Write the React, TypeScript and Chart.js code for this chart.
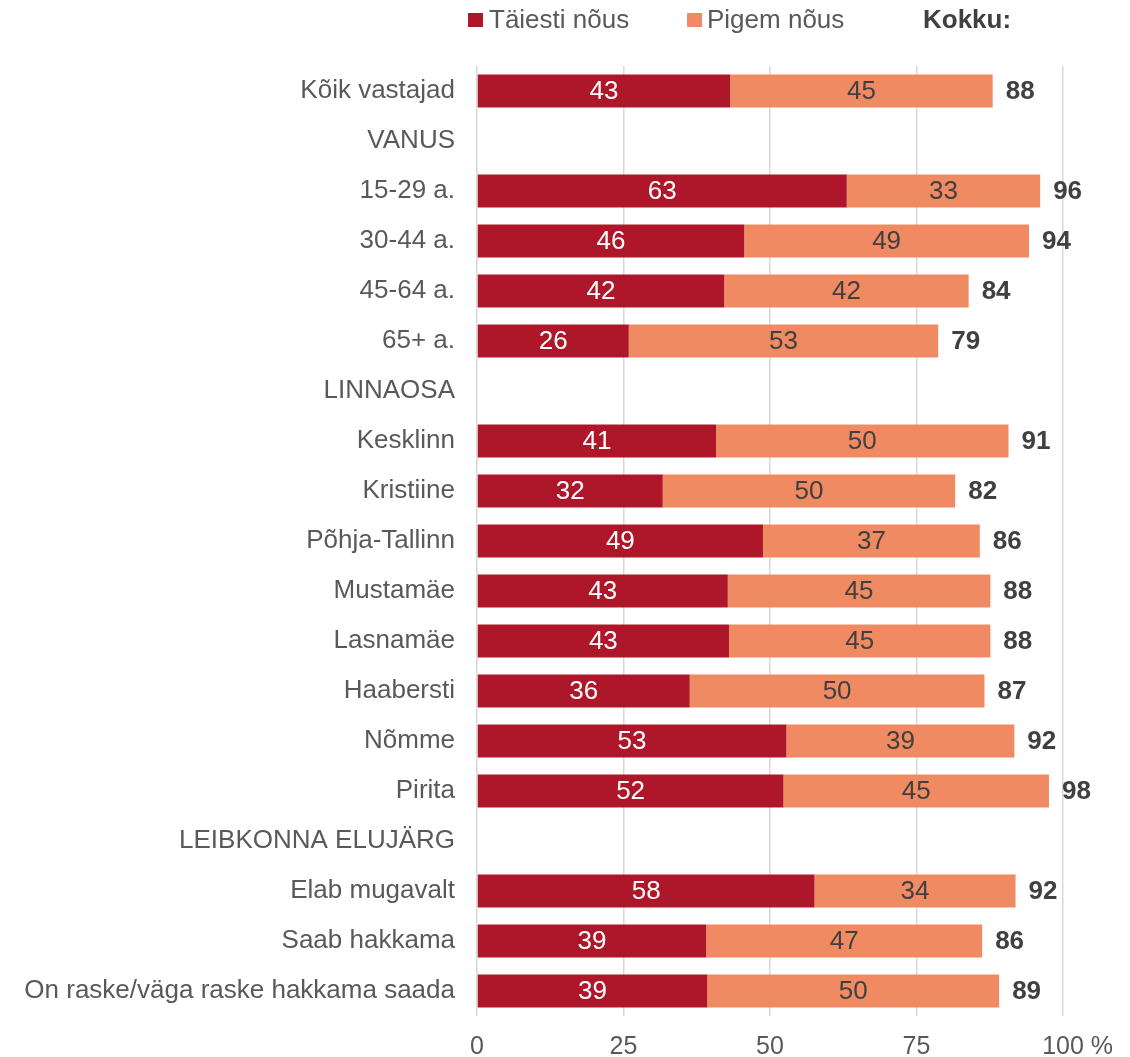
import React, { useEffect, useRef } from "react";
import { Chart, registerables } from "chart.js";

Chart.register(...registerables);

const categories = [
  "Kõik vastajad",
  "VANUS",
  "15-29 a.",
  "30-44 a.",
  "45-64 a.",
  "65+ a.",
  "LINNAOSA",
  "Kesklinn",
  "Kristiine",
  "Põhja-Tallinn",
  "Mustamäe",
  "Lasnamäe",
  "Haabersti",
  "Nõmme",
  "Pirita",
  "LEIBKONNA ELUJÄRG",
  "Elab mugavalt",
  "Saab hakkama",
  "On raske/väga raske hakkama saada",
];

const fullyAgree = [43.2, null, 63.1, 45.6, 42.2, 25.9, null, 40.8, 31.7, 48.8, 42.8, 43.0, 36.3, 52.8, 52.3, null, 57.6, 39.1, 39.3];
const ratherAgree = [44.8, null, 33.0, 48.6, 41.7, 52.8, null, 49.9, 49.9, 37.0, 44.8, 44.6, 50.3, 38.9, 45.3, null, 34.3, 47.1, 49.8];

const seriesNames = ["Täiesti nõus", "Pigem nõus"];
const totalLabel = "Kokku:";
const xTickLabels = ["0", "25", "50", "75", "100"];
const xUnit = "%";

const DARK = "#AE172A";
const LIGHT = "#EF8A62";
const FONT = "'Liberation Sans', Arial, sans-serif";

const labelsPlugin = {
  id: "barLabels",
  afterDatasetsDraw(chart: any) {
    const ctx = chart.ctx;
    ctx.save();
    ctx.font = `26px ${FONT}`;
    ctx.textAlign = "center";
    ctx.textBaseline = "middle";
    chart.data.datasets.forEach((ds: any, di: number) => {
      const meta = chart.getDatasetMeta(di);
      meta.data.forEach((el: any, i: number) => {
        const v = ds.data[i];
        if (v === null || v === undefined) return;
        const left = el.base;
        const right = el.x;
        ctx.fillStyle = di === 0 ? "#FFFFFF" : "#404040";
        ctx.fillText(String(Math.round(v)), (left + right) / 2, el.y + 1);
      });
    });
    // totals
    const meta1 = chart.getDatasetMeta(1);
    ctx.font = `bold 26px ${FONT}`;
    ctx.textAlign = "left";
    ctx.fillStyle = "#404040";
    meta1.data.forEach((el: any, i: number) => {
      const a = fullyAgree[i];
      const b = ratherAgree[i];
      if (a === null || b === null) return;
      ctx.fillText(String(Math.round((a as number) + (b as number))), el.x + 13, el.y + 1);
    });
    ctx.restore();
  },
  afterDraw(chart: any) {
    const ctx = chart.ctx;
    ctx.save();
    ctx.textBaseline = "middle";
    ctx.textAlign = "left";
    const y = 20;
    ctx.font = `26px ${FONT}`;
    ctx.fillStyle = DARK;
    ctx.fillRect(468, y - 7, 15, 14);
    ctx.fillStyle = "#595959";
    ctx.fillText(seriesNames[0], 489, y + 1);
    ctx.fillStyle = LIGHT;
    ctx.fillRect(687, y - 7, 15, 14);
    ctx.fillStyle = "#595959";
    ctx.fillText(seriesNames[1], 707, y + 1);
    ctx.font = `bold 26px ${FONT}`;
    ctx.fillStyle = "#404040";
    ctx.fillText(totalLabel, 923, y + 1);

    // unit after the last x tick label
    const xs = chart.scales.x;
    ctx.font = `25px ${FONT}`;
    ctx.fillStyle = "#595959";
    const last = xTickLabels[xTickLabels.length - 1];
    const w = ctx.measureText(last).width;
    const px = xs.getPixelForValue(100) + w / 2 + ctx.measureText(" ").width;
    ctx.textBaseline = "top";
    const ty = xs.top + 19;
    ctx.fillText(xUnit, px, ty);
    ctx.restore();
  },
};

export default function App() {
  const canvasRef = useRef<HTMLCanvasElement | null>(null);

  useEffect(() => {
    document.body.style.margin = "0";
    document.body.style.overflow = "hidden";
    const canvas = canvasRef.current;
    if (!canvas) return;
    const chart = new Chart(canvas, {
      type: "bar",
      data: {
        labels: categories,
        datasets: [
          {
            label: seriesNames[0],
            data: fullyAgree,
            backgroundColor: DARK,
            barPercentage: 0.66,
            categoryPercentage: 1.0,
          },
          {
            label: seriesNames[1],
            data: ratherAgree,
            backgroundColor: LIGHT,
            barPercentage: 0.66,
            categoryPercentage: 1.0,
          },
        ],
      },
      options: {
        indexAxis: "y",
        responsive: false,
        animation: false,
        layout: { padding: { top: 66, right: 67, bottom: 0, left: 0 } },
        plugins: {
          legend: { display: false },
          tooltip: { enabled: false },
        },
        scales: {
          x: {
            stacked: true,
            min: 0,
            max: 100,
            afterFit: (scale: any) => {
              scale.height = 41;
            },
            ticks: {
              stepSize: 25,
              color: "#595959",
              font: { family: FONT, size: 25 },
              padding: 16,
              callback: (_v: any, idx: number) => xTickLabels[idx],
            },
            grid: { color: "#D9D9D9", lineWidth: 1.5, drawTicks: false },
            border: { display: false },
          },
          y: {
            stacked: true,
            afterFit: (scale: any) => {
              scale.width = 477;
            },
            ticks: {
              color: "#595959",
              font: { family: FONT, size: 26 },
              padding: 22,
              autoSkip: false,
            },
            grid: { display: false, drawTicks: false },
            border: { display: false },
          },
        },
      },
      plugins: [labelsPlugin],
    } as any);
    return () => chart.destroy();
  }, []);

  return (
    <div style={{ width: 1130, height: 1057 }}>
      <canvas ref={canvasRef} width={1130} height={1057} style={{ display: "block" }} />
    </div>
  );
}
